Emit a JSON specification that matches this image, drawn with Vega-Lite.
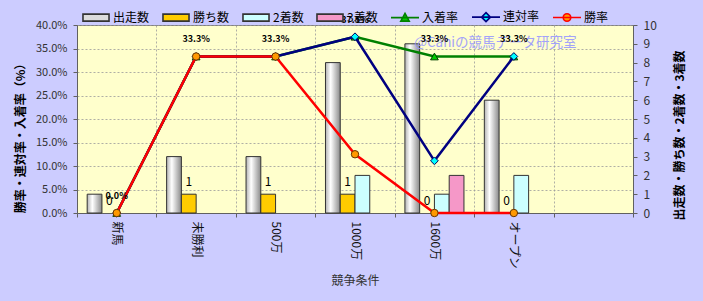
{
  "$schema": "https://vega.github.io/schema/vega-lite/v6.json",
  "width": 556,
  "height": 188,
  "autosize": "none",
  "padding": {"left": 77, "top": 25, "right": 70, "bottom": 88},
  "background": "#ccccff",
  "config": {
    "font": "Noto Sans CJK JP",
    "view": {"fill": "#ffffcc", "stroke": "#808080", "strokeWidth": 1},
    "axis": {"labelFont": "Noto Sans CJK JP", "titleFont": "Noto Sans CJK JP", "labelColor": "#333333", "titleColor": "#000000", "domainColor": "#606060", "tickColor": "#606060", "gridColor": "#9a9a9a", "gridDash": [2, 2], "gridWidth": 0.8},
    "legend": {"orient": "none", "legendX": 4, "legendY": -23, "direction": "horizontal", "columns": 7, "symbolSize": 784, "symbolStrokeWidth": 1.6, "labelFontSize": 12, "labelFont": "Noto Sans CJK JP", "labelColor": "#000000", "labelOffset": 2, "columnPadding": 9, "symbolOpacity": 1}
  },
  "datasets": {
    "bars": [
      {"cat": "新馬", "series": "出走数", "count": 1},
      {"cat": "新馬", "series": "勝ち数", "count": 0},
      {"cat": "新馬", "series": "2着数", "count": 0},
      {"cat": "新馬", "series": "3着数", "count": 0},
      {"cat": "未勝利", "series": "出走数", "count": 3},
      {"cat": "未勝利", "series": "勝ち数", "count": 1},
      {"cat": "未勝利", "series": "2着数", "count": 0},
      {"cat": "未勝利", "series": "3着数", "count": 0},
      {"cat": "500万", "series": "出走数", "count": 3},
      {"cat": "500万", "series": "勝ち数", "count": 1},
      {"cat": "500万", "series": "2着数", "count": 0},
      {"cat": "500万", "series": "3着数", "count": 0},
      {"cat": "1000万", "series": "出走数", "count": 8},
      {"cat": "1000万", "series": "勝ち数", "count": 1},
      {"cat": "1000万", "series": "2着数", "count": 2},
      {"cat": "1000万", "series": "3着数", "count": 0},
      {"cat": "1600万", "series": "出走数", "count": 9},
      {"cat": "1600万", "series": "勝ち数", "count": 0},
      {"cat": "1600万", "series": "2着数", "count": 1},
      {"cat": "1600万", "series": "3着数", "count": 2},
      {"cat": "オープン", "series": "出走数", "count": 6},
      {"cat": "オープン", "series": "勝ち数", "count": 0},
      {"cat": "オープン", "series": "2着数", "count": 2},
      {"cat": "オープン", "series": "3着数", "count": 0}
    ],
    "rates": [
      {"cat": "新馬", "series": "入着率", "rate": 0},
      {"cat": "未勝利", "series": "入着率", "rate": 0.333},
      {"cat": "500万", "series": "入着率", "rate": 0.333},
      {"cat": "1000万", "series": "入着率", "rate": 0.375},
      {"cat": "1600万", "series": "入着率", "rate": 0.333},
      {"cat": "オープン", "series": "入着率", "rate": 0.333},
      {"cat": "新馬", "series": "連対率", "rate": 0},
      {"cat": "未勝利", "series": "連対率", "rate": 0.333},
      {"cat": "500万", "series": "連対率", "rate": 0.333},
      {"cat": "1000万", "series": "連対率", "rate": 0.375},
      {"cat": "1600万", "series": "連対率", "rate": 0.111},
      {"cat": "オープン", "series": "連対率", "rate": 0.333},
      {"cat": "新馬", "series": "勝率", "rate": 0},
      {"cat": "未勝利", "series": "勝率", "rate": 0.333},
      {"cat": "500万", "series": "勝率", "rate": 0.333},
      {"cat": "1000万", "series": "勝率", "rate": 0.125},
      {"cat": "1600万", "series": "勝率", "rate": 0},
      {"cat": "オープン", "series": "勝率", "rate": 0}
    ],
    "series": [
      {"name": "出走数"}, {"name": "勝ち数"}, {"name": "2着数"}, {"name": "3着数"},
      {"name": "入着率"}, {"name": "連対率"}, {"name": "勝率"}
    ],
    "mark": [
      {"cat": "オープン", "rate": 0.362, "label": "@Cahiの競馬データ研究室"}
    ]
  },
  "encoding": {
    "x": {
      "field": "cat", "type": "nominal", "sort": null,
      "scale": {"domain": ["新馬", "未勝利", "500万", "1000万", "1600万", "オープン", "　"], "paddingInner": 0, "paddingOuter": 0},
      "axis": {"title": "競争条件", "labelAngle": 90, "labelFontSize": 12, "labelColor": "#111111", "tickBand": "extent", "grid": true, "tickSize": 4, "labelPadding": 4, "titleFontSize": 12, "titleFontWeight": "normal", "titleColor": "#333333", "titlePadding": 6}
    }
  },
  "layer": [
    {
      "data": {"name": "bars"},
      "encoding": {
        "xOffset": {"field": "series", "type": "nominal", "scale": {"domain": ["出走数", "勝ち数", "2着数", "3着数"], "paddingOuter": 0.69, "paddingInner": 0}},
        "y": {
          "field": "count", "type": "quantitative",
          "scale": {"domain": [0, 10], "nice": false},
          "axis": {"orient": "right", "values": [0, 1, 2, 3, 4, 5, 6, 7, 8, 9, 10], "grid": false, "title": "出走数・勝ち数・2着数・3着数", "titleAngle": 270, "titleFontSize": 12, "titleFontWeight": "bold", "titleX": 46, "titleY": 110, "titleAlign": "center", "titleBaseline": "middle", "labelFontSize": 12, "tickSize": 4, "labelPadding": 6}
        }
      },
      "layer": [
        {
          "mark": {"type": "bar", "stroke": "#333333", "strokeWidth": 1},
          "encoding": {
            "fill": {
              "condition": [
                {"test": "datum.series === '勝ち数'", "value": "#ffcc00"},
                {"test": "datum.series === '2着数'", "value": "#ccffff"},
                {"test": "datum.series === '3着数'", "value": "#f598c8"}
              ],
              "value": {"x1": 0, "y1": 0, "x2": 1, "y2": 0, "gradient": "linear", "stops": [{"offset": 0, "color": "#b4b4b4"}, {"offset": 0.35, "color": "#ffffff"}, {"offset": 1, "color": "#8a8a8a"}]}
            },
            "strokeOpacity": {"condition": {"test": "datum.count === 0", "value": 0}, "value": 1}
          }
        },
        {
          "transform": [{"filter": "datum.series === '勝ち数'"}],
          "mark": {"type": "text", "dy": -12, "fontSize": 12, "color": "#000000"},
          "encoding": {"text": {"field": "count", "type": "quantitative", "format": "d"}}
        }
      ]
    },
    {
      "encoding": {
        "y": {
          "field": "rate", "type": "quantitative",
          "scale": {"domain": [0, 0.4], "nice": false},
          "axis": {"orient": "left", "format": ".1%", "values": [0, 0.05, 0.1, 0.15, 0.2, 0.25, 0.3, 0.35, 0.4], "grid": true, "title": "勝率・連対率・入着率（%）", "titleFontSize": 12, "titleFontWeight": "bold", "titleX": -57, "titleY": 110, "titleAlign": "center", "titleBaseline": "middle", "labelFontSize": 11, "tickSize": 4, "labelPadding": 6}
        }
      },
      "layer": [
        {
          "data": {"name": "mark"},
          "mark": {"type": "text", "color": "#9999ff", "fontSize": 13.5, "dx": -18.5, "opacity": 0.9},
          "encoding": {"text": {"field": "label"}}
        },
        {
          "data": {"name": "rates"},
          "transform": [{"filter": "datum.series === '入着率'"}],
          "mark": {"type": "line", "color": "#008000", "strokeWidth": 2.5}
        },
        {
          "data": {"name": "rates"},
          "transform": [{"filter": "datum.series === '入着率'"}],
          "mark": {"type": "point", "shape": "triangle-up", "filled": true, "fill": "#00cc00", "stroke": "#004000", "strokeWidth": 1, "size": 60, "opacity": 1}
        },
        {
          "data": {"name": "rates"},
          "transform": [{"filter": "datum.series === '連対率'"}],
          "mark": {"type": "line", "color": "#000080", "strokeWidth": 2.5}
        },
        {
          "data": {"name": "rates"},
          "transform": [{"filter": "datum.series === '連対率'"}],
          "mark": {"type": "point", "shape": "diamond", "filled": true, "fill": "#00ffff", "stroke": "#000060", "strokeWidth": 1, "size": 60, "opacity": 1}
        },
        {
          "data": {"name": "rates"},
          "transform": [{"filter": "datum.series === '勝率'"}],
          "mark": {"type": "line", "color": "#ff0000", "strokeWidth": 2.5}
        },
        {
          "data": {"name": "rates"},
          "transform": [{"filter": "datum.series === '勝率'"}],
          "mark": {"type": "point", "shape": "circle", "filled": true, "fill": "#ff9900", "stroke": "#663300", "strokeWidth": 1, "size": 55, "opacity": 1}
        },
        {
          "data": {"name": "rates"},
          "transform": [{"filter": "datum.series === '入着率'"}],
          "mark": {"type": "text", "dy": -17, "fontSize": 9, "fontWeight": "bold", "color": "#000000"},
          "encoding": {"text": {"field": "rate", "type": "quantitative", "format": ".1%"}}
        }
      ]
    },
    {
      "data": {"name": "series"},
      "transform": [{"filter": "false"}],
      "mark": {"type": "point", "filled": true, "opacity": 1},
      "encoding": {
        "fill": {"field": "name", "type": "nominal", "sort": null,
          "scale": {"domain": ["出走数", "勝ち数", "2着数", "3着数", "入着率", "連対率", "勝率"], "range": ["#dcdcdc", "#ffcc00", "#ccffff", "#f598c8", "#00cc00", "#00ffff", "#ff9900"]},
          "legend": {"title": null}},
        "stroke": {"field": "name", "type": "nominal", "sort": null,
          "scale": {"domain": ["出走数", "勝ち数", "2着数", "3着数", "入着率", "連対率", "勝率"], "range": ["#333333", "#333333", "#333333", "#333333", "#008000", "#000080", "#ff0000"]},
          "legend": {"title": null}},
        "shape": {"field": "name", "type": "nominal", "sort": null,
          "scale": {"domain": ["出走数", "勝ち数", "2着数", "3着数", "入着率", "連対率", "勝率"], "range": [
            "M -0.93 -0.25 L 0.93 -0.25 L 0.93 0.25 L -0.93 0.25 Z",
            "M -0.93 -0.25 L 0.93 -0.25 L 0.93 0.25 L -0.93 0.25 Z",
            "M -0.93 -0.25 L 0.93 -0.25 L 0.93 0.25 L -0.93 0.25 Z",
            "M -0.93 -0.25 L 0.93 -0.25 L 0.93 0.25 L -0.93 0.25 Z",
            "M -1 0 L 1 0 M 0 -0.3 L 0.3 0.25 L -0.3 0.25 Z",
            "M -1 0 L 1 0 M 0 -0.32 L 0.32 0 L 0 0.32 L -0.32 0 Z",
            "M -1 0 L 1 0 M 0.27 0 A 0.27 0.27 0 1 1 -0.27 0 A 0.27 0.27 0 1 1 0.27 0 Z"
          ]},
          "legend": {"title": null}}
      }
    }
  ],
  "resolve": {"scale": {"y": "independent"}}
}
